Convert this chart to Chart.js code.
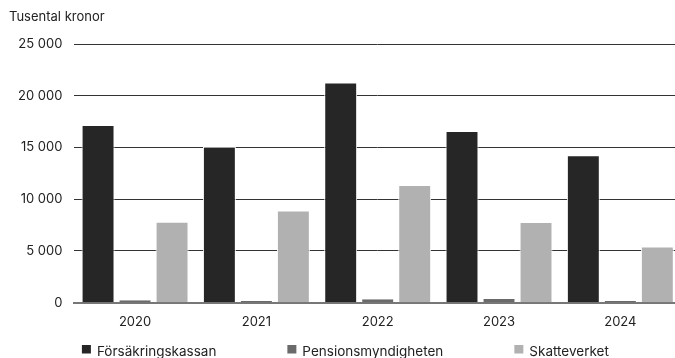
<!DOCTYPE html>
<html lang="sv">
<head>
<meta charset="utf-8">
<title>Tusental kronor</title>
<script src="https://cdn.jsdelivr.net/npm/chart.js@4/dist/chart.umd.min.js"></script>
<style>
  html, body { margin: 0; padding: 0; background: #fff; overflow: hidden; }
  .wrap { position: relative; width: 681px; height: 358px; }
</style>
</head>
<body>
<div class="wrap"><canvas id="chart"></canvas></div>
<script>
const years = ['2020', '2021', '2022', '2023', '2024'];
const forsakringskassan = [17180, 15060, 21290, 16600, 14240];
const pensionsmyndigheten = [240, 160, 330, 360, 160];
const skatteverket = [7820, 8900, 11380, 7810, 5420];
const yTicks = [0, 5000, 10000, 15000, 20000, 25000];
const yTickLabels = ['0', '5 000', '10 000', '15 000', '20 000', '25 000'];
const unitLabel = 'Tusental kronor';

const FONT = 'Inter, "Liberation Sans", sans-serif';
const INK = '#222';
const colors = { dark: '#262626', mid: '#6a6a6a', light: '#b1b1b1' };

// unit text over the y axis
const unitTitle = {
  id: 'unitTitle',
  afterDraw(chart) {
    const { ctx } = chart;
    ctx.save();
    ctx.font = '13px ' + FONT;
    ctx.fillStyle = INK;
    ctx.textAlign = 'left';
    ctx.textBaseline = 'alphabetic';
    ctx.fillText(unitLabel, 9, 21);
    ctx.restore();
  }
};

// legend row under the x axis, wide gaps between entries
const bottomLegend = {
  id: 'bottomLegend',
  afterDraw(chart) {
    const { ctx, chartArea } = chart;
    ctx.save();
    ctx.font = '13.5px ' + FONT;
    ctx.textBaseline = 'middle';
    ctx.textAlign = 'left';
    let x = chartArea.left + 7.5;
    const y = 349;
    chart.data.datasets.forEach(ds => {
      ctx.fillStyle = ds.backgroundColor;
      ctx.fillRect(x, y - 4, 9, 8.5);
      ctx.fillStyle = INK;
      ctx.fillText(ds.label, x + 15, y + 3);
      x += 15 + ctx.measureText(ds.label).width + 71;
    });
    ctx.restore();
  }
};

new Chart(document.getElementById('chart'), {
  type: 'bar',
  data: {
    labels: years,
    datasets: [
      { label: 'Försäkringskassan', data: forsakringskassan, backgroundColor: colors.dark },
      { label: 'Pensionsmyndigheten', data: pensionsmyndigheten, backgroundColor: colors.mid,
        borderWidth: { top: 0, left: 1, right: 1, bottom: 0 } },
      { label: 'Skatteverket', data: skatteverket, backgroundColor: colors.light }
    ]
  },
  options: {
    responsive: true,
    maintainAspectRatio: false,
    animation: false,
    layout: { padding: { top: 44, bottom: 16, left: 0, right: 0 } },
    datasets: {
      bar: {
        categoryPercentage: 0.915,
        barPercentage: 0.89,
        borderColor: '#fff',
        borderWidth: 1,
        borderSkipped: 'start'
      }
    },
    plugins: {
      legend: { display: false },
      tooltip: { enabled: false }
    },
    scales: {
      x: {
        z: 1,
        grid: { display: false },
        border: { display: true, color: '#777', width: 2 },
        ticks: { color: INK, font: { family: FONT, size: 13 }, padding: 4 },
        afterFit(scale) { scale.height = 39.3; }
      },
      y: {
        min: 0,
        max: 25000,
        afterBuildTicks(scale) { scale.ticks = yTicks.map(v => ({ value: v })); },
        grid: { color: '#333', lineWidth: 1, drawTicks: false },
        border: { display: false },
        ticks: {
          color: INK,
          font: { family: FONT, size: 13 },
          padding: 12,
          callback: (v, i) => yTickLabels[i]
        },
        afterFit(scale) { scale.width = 74.4; }
      }
    }
  },
  plugins: [unitTitle, bottomLegend]
});
</script>
</body>
</html>
